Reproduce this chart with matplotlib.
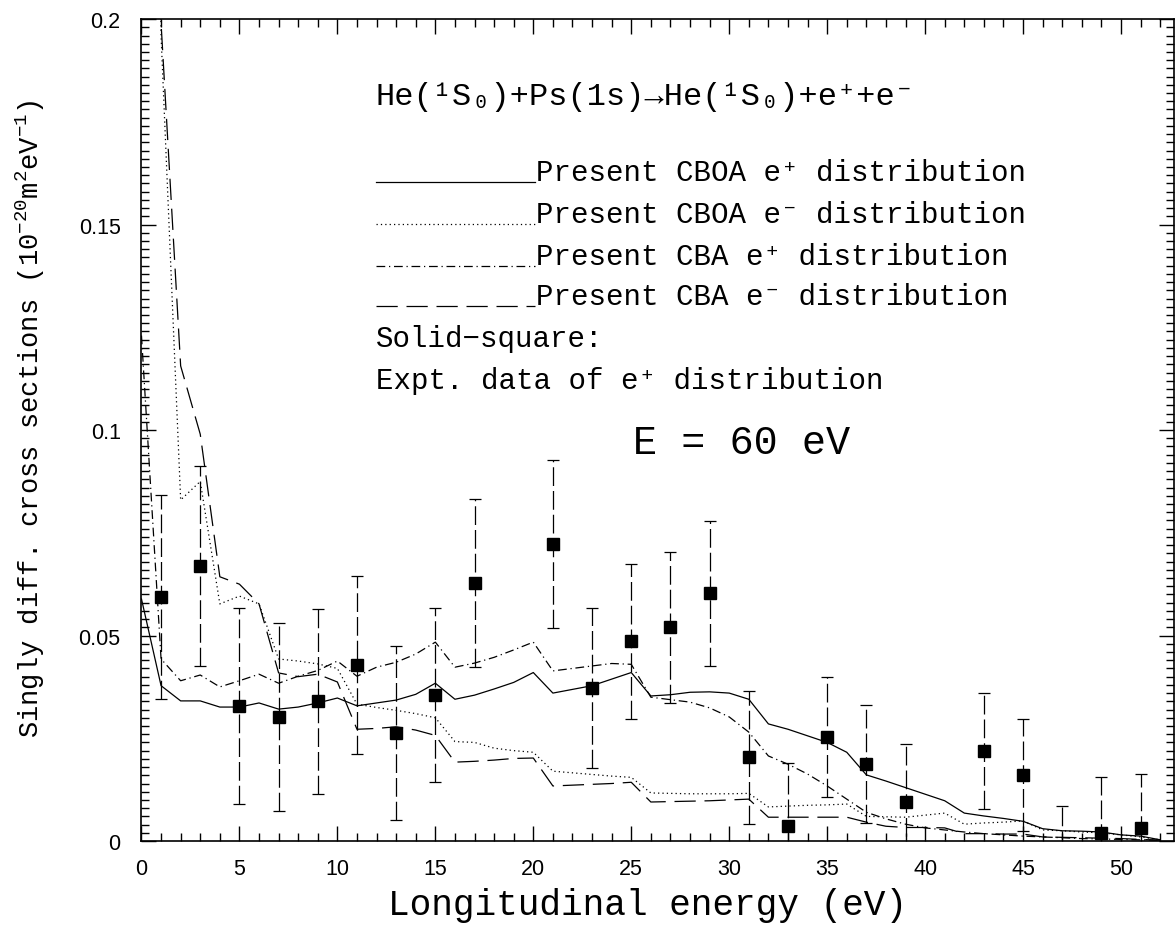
import matplotlib
matplotlib.use('Agg')
import matplotlib.pyplot as plt
from matplotlib.ticker import MultipleLocator, FuncFormatter

plt.rcParams['mathtext.fontset'] = 'custom'
plt.rcParams['mathtext.rm'] = 'Liberation Mono'
plt.rcParams['mathtext.it'] = 'Liberation Mono'

# longitudinal energy grid (eV)
energy = list(range(0, 53))

cboa_pos = [0.0589, 0.0378, 0.0341, 0.0341, 0.0326, 0.0326, 0.0336, 0.0321, 0.0326, 0.0336,
            0.0348, 0.0329, 0.0336, 0.0343, 0.0357, 0.0384, 0.0345, 0.0355, 0.0370, 0.0386,
            0.0410, 0.0360, 0.0369, 0.0378, 0.0394, 0.0410, 0.0353, 0.0356, 0.0362, 0.0363,
            0.0360, 0.0345, 0.0285, 0.0272, 0.0256, 0.0240, 0.0216, 0.0161, 0.0146, 0.0130,
            0.0114, 0.0098, 0.0068, 0.0061, 0.0055, 0.0048, 0.0030, 0.0025, 0.0024, 0.0022,
            0.0015, 0.0012, 0.0003]
cboa_neg = [0.6000, 0.1960, 0.0830, 0.0875, 0.0577, 0.0596, 0.0577, 0.0443, 0.0438, 0.0431,
            0.0420, 0.0333, 0.0325, 0.0318, 0.0310, 0.0300, 0.0242, 0.0240, 0.0226, 0.0220,
            0.0216, 0.0170, 0.0166, 0.0162, 0.0158, 0.0155, 0.0117, 0.0116, 0.0115, 0.0115,
            0.0115, 0.0116, 0.0083, 0.0085, 0.0087, 0.0088, 0.0090, 0.0060, 0.0059, 0.0058,
            0.0063, 0.0068, 0.0041, 0.0044, 0.0046, 0.0049, 0.0027, 0.0025, 0.0022, 0.0020,
            0.0015, 0.0010, 0.0003]
cba_pos = [0.1230, 0.0443, 0.0390, 0.0404, 0.0375, 0.0390, 0.0406, 0.0384, 0.0401, 0.0415,
           0.0438, 0.0401, 0.0423, 0.0435, 0.0455, 0.0484, 0.0423, 0.0433, 0.0447, 0.0465,
           0.0484, 0.0414, 0.0420, 0.0426, 0.0432, 0.0430, 0.0350, 0.0344, 0.0338, 0.0324,
           0.0302, 0.0265, 0.0207, 0.0187, 0.0163, 0.0134, 0.0102, 0.0070, 0.0054, 0.0041,
           0.0032, 0.0027, 0.0022, 0.0018, 0.0015, 0.0012, 0.0010, 0.0008, 0.0006, 0.0005,
           0.0004, 0.0003, 0.0002]
cba_neg = [0.7000, 0.1990, 0.1156, 0.0990, 0.0643, 0.0625, 0.0577, 0.0409, 0.0400, 0.0406,
           0.0387, 0.0272, 0.0274, 0.0278, 0.0270, 0.0257, 0.0192, 0.0194, 0.0197, 0.0201,
           0.0202, 0.0134, 0.0136, 0.0138, 0.0140, 0.0143, 0.0095, 0.0096, 0.0097, 0.0098,
           0.0100, 0.0102, 0.0058, 0.0058, 0.0058, 0.0058, 0.0058, 0.0046, 0.0036, 0.0033,
           0.0033, 0.0032, 0.0018, 0.0018, 0.0017, 0.0017, 0.0010, 0.0009, 0.0008, 0.0007,
           0.0006, 0.0004, 0.0002]

# experimental e+ distribution
expt_x = [1, 3, 5, 7, 9, 11, 13, 15, 17, 21, 23, 25, 27, 29, 31, 33, 35, 37, 39, 43, 45, 47, 49, 51]
expt_y = [0.0594, 0.0669, 0.0328, 0.0302, 0.0340, 0.0428, 0.0263, 0.0355, 0.0628, 0.0723,
          0.0372, 0.0486, 0.0520, 0.0603, 0.0204, 0.0037, 0.0253, 0.0187, 0.0095, 0.0219,
          0.0161, -0.0025, 0.0019, 0.0032]
expt_err = [0.0248, 0.0243, 0.0238, 0.0228, 0.0225, 0.0217, 0.0212, 0.0212, 0.0205, 0.0204,
            0.0195, 0.0188, 0.0183, 0.0176, 0.0162, 0.0153, 0.0147, 0.0144, 0.0141, 0.0141,
            0.0136, 0.0110, 0.0137, 0.0131]

labels = ['Present CBOA e\u207a distribution',
          'Present CBOA e\u207b distribution',
          'Present CBA e\u207a distribution',
          'Present CBA e\u207b distribution']
styles = ['-', (0, (1, 2.5)), (0, (7, 3, 1, 3)), (0, (17, 7))]

mono = ['Liberation Mono', 'DejaVu Sans Mono']

fig = plt.figure(figsize=(11.75, 9.29), dpi=100)
ax = fig.add_axes([0.1204, 0.0936, 0.8787, 0.8848])

for ys, ls in zip([cboa_pos, cboa_neg, cba_pos, cba_neg], styles):
    ax.plot(energy, ys, color='black', lw=0.9, linestyle=ls)

eb = ax.errorbar(expt_x, expt_y, yerr=expt_err, fmt='s', color='black', ms=8.5,
                 ecolor='black', elinewidth=0.9, capsize=4, capthick=0.9)
eb[2][0].set_linestyle((0, (15, 4)))

# legend drawn by hand, as in the original
leg_y = [0.8017, 0.7506, 0.6995, 0.6509]
for ls, yy, lab in zip(styles, leg_y, labels):
    ax.plot([0.227, 0.381], [yy, yy], transform=ax.transAxes, color='black', lw=0.9, linestyle=ls)
    ax.text(0.382, yy + 0.002, lab, transform=ax.transAxes, fontsize=21,
            family=mono, va='baseline', ha='left')

ax.text(0.227, 0.906, 'He(\u00b9S\u2080)+Ps(1s)\u2192He(\u00b9S\u2080)+e\u207a+e\u207b',
        transform=ax.transAxes, fontsize=23, family=mono, va='center', ha='left')
ax.text(0.227, 0.612, 'Solid\u2212square:', transform=ax.transAxes, fontsize=21,
        family=mono, va='center', ha='left')
ax.text(0.227, 0.561, 'Expt. data of e\u207a distribution', transform=ax.transAxes,
        fontsize=21, family=mono, va='center', ha='left')
ax.text(0.476, 0.485, 'E = 60 eV', transform=ax.transAxes, fontsize=29,
        family=mono, va='center', ha='left')

ax.set_xlim(0, 52.7)
ax.set_ylim(0, 0.2)
ax.xaxis.set_major_locator(MultipleLocator(5))
ax.xaxis.set_minor_locator(MultipleLocator(1))
ax.yaxis.set_major_locator(MultipleLocator(0.05))
ax.yaxis.set_minor_locator(MultipleLocator(0.002))
ax.yaxis.set_major_formatter(FuncFormatter(lambda v, p: '%g' % round(v, 4)))

ax.tick_params(which='both', direction='in', top=True, right=True, width=1.0)
ax.tick_params(which='major', length=10.5, labelsize=15.5, labelfontfamily='Liberation Sans')
ax.tick_params(which='minor', length=5.5)
ax.tick_params(axis='x', pad=12)
ax.tick_params(axis='y', pad=15)
for s in ax.spines.values():
    s.set_linewidth(1.2)

ax.set_xlabel('Longitudinal energy (eV)', fontsize=26, family=mono)
ax.xaxis.set_label_coords(0.49, -0.077)
ax.xaxis.label.set_va('center')
ax.set_ylabel(r'Singly diff. cross sections (10$^{-20}$m$^2$eV$^{-1}$)',
              fontsize=19.5, family=mono)
ax.yaxis.set_label_coords(-0.108, 0.515)
ax.yaxis.label.set_va('center')

fig.savefig('out.png', dpi=100)
